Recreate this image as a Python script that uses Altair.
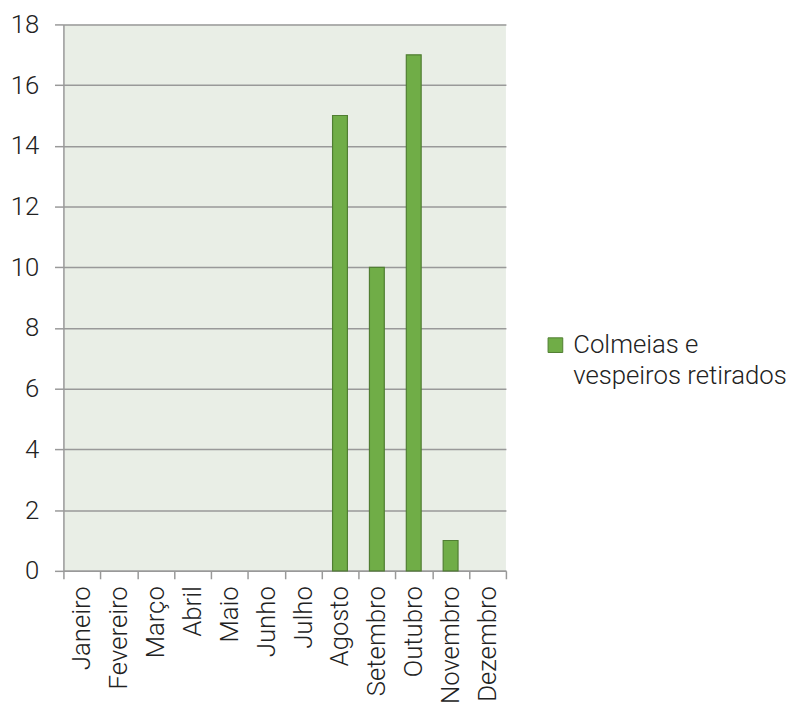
import altair as alt
import pandas as pd

months = ["Janeiro", "Fevereiro", "Março", "Abril", "Maio", "Junho", "Julho",
          "Agosto", "Setembro", "Outubro", "Novembro", "Dezembro"]
values = [0, 0, 0, 0, 0, 0, 0, 15, 10, 17, 1, 0]
series = "Colmeias e vespeiros retirados"

df = pd.DataFrame({"mes": months, "valor": values, "serie": [series] * len(months)})

FONT = "Roboto"
FS = 26

chart = alt.Chart(df).transform_filter("datum.valor > 0").mark_bar(
    size=15, stroke="#507e32", strokeWidth=1.2
).encode(
    x=alt.X("mes:N", sort=months, title=None,
            scale=alt.Scale(domain=months, paddingInner=0, paddingOuter=0),
            axis=alt.Axis(labelAngle=-90, labelAlign="right", labelBaseline="middle",
                          tickBand="extent", tickSize=8, labelPadding=7,
                          labelFontSize=FS, labelFont=FONT, labelFontWeight=300,
                          labelColor="#222", domainColor="#999", tickColor="#999",
                          domainWidth=1.5, tickWidth=1.5)),
    y=alt.Y("valor:Q", title=None,
            scale=alt.Scale(domain=[0, 18]),
            axis=alt.Axis(values=list(range(0, 19, 2)), tickSize=9, labelPadding=16,
                          labelFontSize=FS, labelFont=FONT, labelFontWeight=300,
                          labelColor="#222", domainColor="#999", tickColor="#999",
                          gridColor="#999", gridWidth=1.5, domainWidth=1.5, tickWidth=1.5)),
    color=alt.Color("serie:N", title=None,
                    scale=alt.Scale(range=["#70ad47"]),
                    legend=alt.Legend(orient="none", legendX=484, legendY=311,
                                      symbolType="square", symbolSize=220,
                                      symbolStrokeColor="#507e32", symbolStrokeWidth=1,
                                      labelFontSize=FS, labelFont=FONT, labelFontWeight=300,
                                      labelColor="#222", labelLimit=400, labelOffset=5,
                                      labelExpr="['Colmeias e', 'vespeiros retirados']")),
).properties(width=447, height=552, padding={"left": 2, "top": 0, "right": 5, "bottom": 5}).configure_view(
    fill="#e9eee6", stroke=None
)
chart.config.style = {"guide-label": {"lineHeight": 31}}

chart.save("out.html", embed_options={"renderer": "svg", "actions": False})
